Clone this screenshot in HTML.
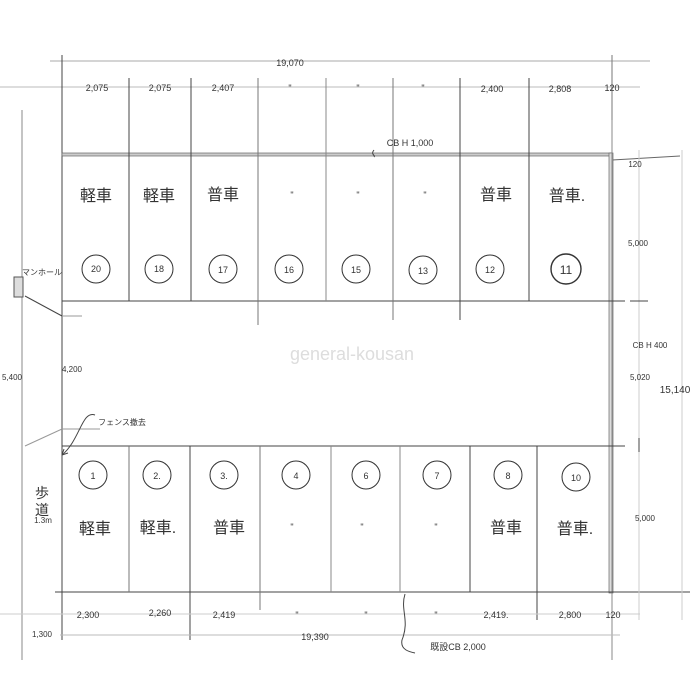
<!DOCTYPE html>
<html><head><meta charset="utf-8"><style>
html,body{margin:0;padding:0;background:#fff;}
svg{display:block;}
text{font-family:"Liberation Sans","Noto Sans CJK JP",sans-serif;fill:#333;}
</style></head><body>
<svg width="700" height="700" viewBox="0 0 700 700" xmlns="http://www.w3.org/2000/svg">
<g stroke="#444" fill="none" stroke-width="1">
 <!-- dimension lines top -->
 <line x1="50" y1="61" x2="650" y2="61" stroke="#aaa"/>
 <line x1="0" y1="87" x2="640" y2="87" stroke="#bbb"/>
 <line x1="62" y1="55" x2="62" y2="640"/>
 <line x1="612" y1="55" x2="612" y2="120" stroke="#777"/>
 <line x1="22" y1="110" x2="22" y2="660" stroke="#888"/>
 <!-- top wall -->
 <rect x="62" y="153" width="550" height="3" fill="#ccc" stroke="#666" stroke-width="0.7"/>
 <line x1="612" y1="160" x2="680" y2="156" stroke="#666"/>
 <!-- right wall -->
 <rect x="609" y="153" width="4" height="440" fill="#ddd" stroke="#666" stroke-width="0.7"/>
 <line x1="612" y1="120" x2="612" y2="660" stroke="#888"/>
 <!-- top row -->
 <line x1="62" y1="301" x2="625" y2="301"/>
 <line x1="129" y1="78" x2="129" y2="301"/><line x1="191" y1="78" x2="191" y2="301"/>
 <line x1="258" y1="78" x2="258" y2="325" stroke="#777"/><line x1="326" y1="78" x2="326" y2="301" stroke="#888"/>
 <line x1="393" y1="78" x2="393" y2="320" stroke="#777"/><line x1="460" y1="78" x2="460" y2="320"/>
 <line x1="529" y1="78" x2="529" y2="301"/>
 <!-- bottom row -->
 <line x1="62" y1="446" x2="625" y2="446"/>
 <line x1="55" y1="592" x2="690" y2="592"/>
 <line x1="129" y1="446" x2="129" y2="592" stroke="#777"/><line x1="190" y1="446" x2="190" y2="640"/>
 <line x1="260" y1="446" x2="260" y2="610" stroke="#777"/><line x1="331" y1="446" x2="331" y2="592" stroke="#888"/>
 <line x1="400" y1="446" x2="400" y2="592" stroke="#888"/><line x1="470" y1="446" x2="470" y2="592"/>
 <line x1="537" y1="446" x2="537" y2="620"/>
 <line x1="60" y1="635" x2="620" y2="635" stroke="#bbb"/>
 <line x1="0" y1="614" x2="640" y2="614" stroke="#ccc"/>
 <!-- right dims -->
 <line x1="639" y1="150" x2="639" y2="620" stroke="#ccc"/>
 <line x1="682" y1="150" x2="682" y2="620" stroke="#ccc"/>
 <line x1="630" y1="301" x2="648" y2="301"/>
 <line x1="639" y1="438" x2="639" y2="452"/>
 <!-- left stuff -->
 <rect x="14" y="277" width="9" height="20" fill="#ddd" stroke="#555"/>
 <line x1="25" y1="296" x2="62" y2="316"/>
 <line x1="62" y1="316" x2="82" y2="316" stroke="#999"/>
 <line x1="25" y1="446" x2="62" y2="429" stroke="#999"/>
 <line x1="62" y1="429" x2="100" y2="429" stroke="#999"/>
 <path d="M95 415 C82 410,80 440,62 455" />
 <path d="M62 455 l6 -2 M62 455 l2 -6"/>
 <path d="M405 594 C400 610,410 620,402 640 C400 650,410 652,415 653"/>
 <path d="M374 150 c-4 5,2 5,0 7"/>
</g>
<g fill="none" stroke="#333" stroke-width="1">
 <circle cx="96" cy="269" r="14"/><circle cx="159" cy="269" r="14"/><circle cx="223" cy="269" r="14"/>
 <circle cx="289" cy="269" r="14"/><circle cx="356" cy="269" r="14"/><circle cx="423" cy="270" r="14"/>
 <circle cx="490" cy="269" r="14"/><circle cx="566" cy="269" r="15" stroke-width="1.4"/>
 <circle cx="93" cy="475" r="14"/><circle cx="157" cy="475" r="14"/><circle cx="224" cy="475" r="14"/>
 <circle cx="296" cy="475" r="14"/><circle cx="366" cy="475" r="14"/><circle cx="437" cy="475" r="14"/>
 <circle cx="508" cy="475" r="14"/><circle cx="576" cy="477" r="14"/>
</g>
<g font-size="9" text-anchor="middle">
 <text x="290" y="66">19,070</text>
 <text x="97" y="91">2,075</text><text x="160" y="91">2,075</text><text x="223" y="91">2,407</text>
 <text x="290" y="91">"</text><text x="358" y="91">"</text><text x="423" y="91">"</text>
 <text x="492" y="92">2,400</text><text x="560" y="92">2,808</text><text x="612" y="91">120</text>
 <text x="410" y="146">CB H 1,000</text>
 <text x="635" y="167" font-size="8">120</text>
 <text x="638" y="246" font-size="8">5,000</text>
 <text x="650" y="348" font-size="8">CB H 400</text>
 <text x="640" y="380" font-size="8">5,020</text>
 <text x="675" y="393" font-size="10">15,140</text>
 <text x="645" y="521" font-size="8">5,000</text>
 <text x="88" y="618">2,300</text><text x="160" y="616">2,260</text><text x="224" y="618">2,419</text>
 <text x="297" y="618">"</text><text x="366" y="618">"</text><text x="436" y="618">"</text>
 <text x="496" y="618">2,419.</text><text x="570" y="618">2,800</text><text x="613" y="618">120</text>
 <text x="315" y="640">19,390</text>
 <text x="42" y="637" font-size="8">1,300</text>
 <text x="12" y="380" font-size="8">5,400</text>
 <text x="72" y="372" font-size="8">4,200</text>
 <text x="43" y="523" font-size="8">1.3m</text>
 <text x="42" y="275" font-size="8">マンホール</text>
 <text x="122" y="425" font-size="8">フェンス撤去</text>
 <text x="458" y="650" font-size="9">既設CB 2,000</text>
</g>
<g font-size="16" text-anchor="middle">
 <text x="96" y="201">軽車</text><text x="159" y="201">軽車</text><text x="223" y="200">普車</text>
 <text x="292" y="198" font-size="9">"</text><text x="358" y="198" font-size="9">"</text><text x="425" y="198" font-size="9">"</text>
 <text x="496" y="200">普車</text><text x="567" y="201">普車.</text>
 <text x="95" y="534">軽車</text><text x="158" y="533">軽車.</text><text x="229" y="533">普車</text>
 <text x="292" y="530" font-size="9">"</text><text x="362" y="530" font-size="9">"</text><text x="436" y="530" font-size="9">"</text>
 <text x="506" y="533">普車</text><text x="575" y="534">普車.</text>
 <text x="42" y="498" font-size="14">歩</text><text x="42" y="515" font-size="14">道</text>
</g>
<g font-size="9" text-anchor="middle">
 <text x="96" y="272">20</text><text x="159" y="272">18</text><text x="223" y="273">17</text>
 <text x="289" y="273">16</text><text x="356" y="273">15</text><text x="423" y="274">13</text>
 <text x="490" y="273">12</text><text x="566" y="274" font-size="12">11</text>
 <text x="93" y="479">1</text><text x="157" y="479">2.</text><text x="224" y="479">3.</text>
 <text x="296" y="479">4</text><text x="366" y="479">6</text><text x="437" y="479">7</text>
 <text x="508" y="479">8</text><text x="576" y="481">10</text>
</g>
<text x="352" y="360" font-size="18" text-anchor="middle" style="fill:#ddd">general-kousan</text>
</svg>
</body></html>
